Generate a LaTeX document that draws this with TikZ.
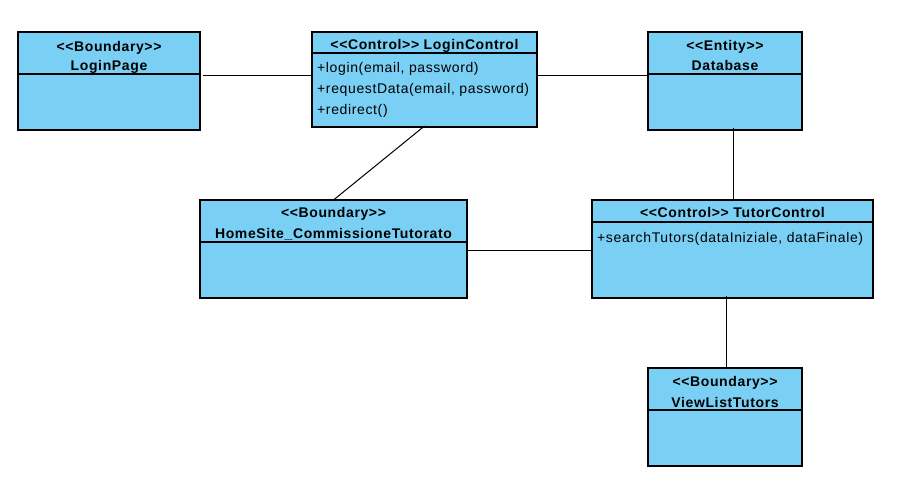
\documentclass[tikz,border=0pt]{standalone}
\usepackage{fontspec}
\setmainfont[Ligatures=NoCommon,LetterSpace=4.5]{Liberation Sans}
\definecolor{boxblue}{RGB}{122,207,245}
\begin{document}
\begin{tikzpicture}[x=1pt,y=-1pt,
  cls/.style={draw=black,line width=1.3pt,fill=boxblue,anchor=north west,inner sep=0pt,outer sep=0pt},
  hdr/.style={draw=black,line width=1.1pt},
  ttl/.style={inner sep=0pt,text height=10pt,text depth=0pt,font=\fontsize{14}{16}\selectfont\bfseries},
  mth/.style={inner sep=0pt,text height=10pt,text depth=0pt,anchor=west,font=\fontsize{14}{16}\selectfont},
  conn/.style={draw=black,line width=1pt}]
\useasboundingbox (0,0) rectangle (900,492);
\fill[white] (0,0) rectangle (900,492);
% boxes
\node[cls,minimum width=182pt,minimum height=98pt] (lp) at (18,32) {};
\node[cls,minimum width=225pt,minimum height=95pt] (lc) at (312,32) {};
\node[cls,minimum width=154pt,minimum height=98pt] (db) at (648,32) {};
\node[cls,minimum width=267pt,minimum height=98pt] (hs) at (200,200) {};
\node[cls,minimum width=281pt,minimum height=98pt] (tc) at (592,200) {};
\node[cls,minimum width=154pt,minimum height=98pt] (vl) at (648,368) {};
% header lines
\draw[hdr] (lp.west |- 0,74) -- (lp.east |- 0,74);
\draw[hdr] (lc.west |- 0,53) -- (lc.east |- 0,53);
\draw[hdr] (db.west |- 0,74) -- (db.east |- 0,74);
\draw[hdr] (hs.west |- 0,242) -- (hs.east |- 0,242);
\draw[hdr] (tc.west |- 0,222) -- (tc.east |- 0,222);
\draw[hdr] (vl.west |- 0,410) -- (vl.east |- 0,410);
% texts
\node[ttl] (lp1) at (109,46.5) {{<}{<}Boundary{>}{>}};
\node[ttl] (lp2) at (109,66) {LoginPage};
\node[ttl] (lc1) at (424.5,45) {{<}{<}Control{>}{>} LoginControl};
\node[mth] (lc2) at (317,68) {+login(email, password)};
\node[mth] (lc3) at (317,89) {+requestData(email, password)};
\node[mth] (lc4) at (317,109.5) {+redirect()};
\node[ttl] (db1) at (725,46) {{<}{<}Entity{>}{>}};
\node[ttl] (db2) at (725,66) {Database};
\node[ttl] (hs1) at (333.5,213) {{<}{<}Boundary{>}{>}};
\node[ttl] (hs2) at (333.5,233) {HomeSite\_CommissioneTutorato};
\node[ttl] (tc1) at (732.5,213) {{<}{<}Control{>}{>} TutorControl};
\node[mth] (tc2) at (597,237) {+searchTutors(dataIniziale, dataFinale)};
\node[ttl] (vl1) at (725,381) {{<}{<}Boundary{>}{>}};
\node[ttl] (vl2) at (725,402) {ViewListTutors};
% connectors
\draw[conn] ([xshift=3pt]lp.east |- 0,75.5) -- (lc.west |- 0,75.5);
\draw[conn] (lc.east |- 0,75.5) -- (db.west |- 0,75.5);
\draw[conn] ([yshift=1pt]lc.south) -- (hs.north);
\draw[conn] ([xshift=1pt,yshift=2pt]db.south -| tc.north) -- ([xshift=1pt]tc.north);
\draw[conn] ([xshift=1pt]hs.east |- 0,250.5) -- (tc.west |- 0,250.5);
\draw[conn] ([xshift=1.5pt,yshift=2pt]tc.south -| vl.north) -- ([xshift=1.5pt]vl.north);
\end{tikzpicture}
\end{document}
